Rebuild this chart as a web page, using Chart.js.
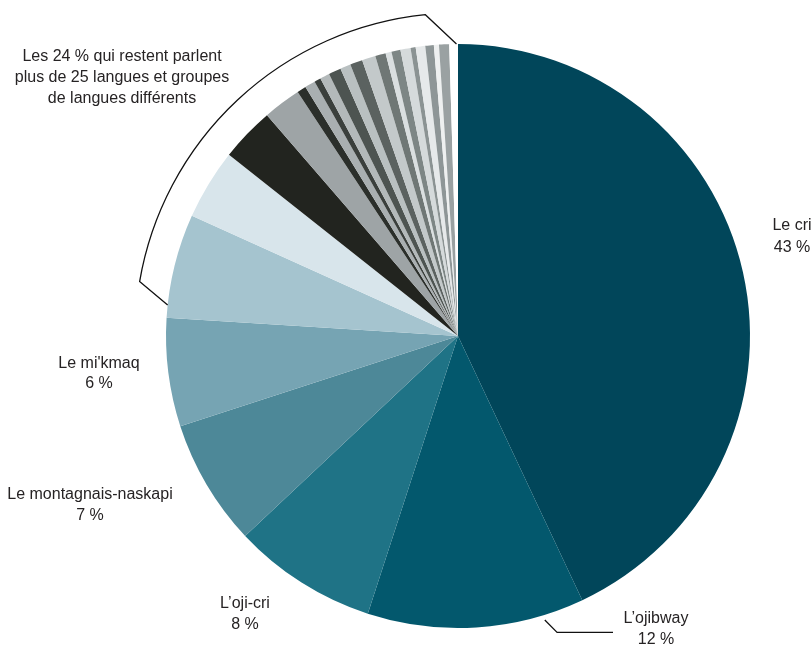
<!DOCTYPE html>
<html>
<head>
<meta charset="utf-8">
<script src="https://cdn.jsdelivr.net/npm/chart.js@4/dist/chart.umd.min.js"></script>
<style>
  html, body { margin: 0; padding: 0; background: #fff; overflow: hidden; }
  canvas { display: block; }
</style>
</head>
<body>
<canvas id="chart" width="812" height="646"></canvas>
<script>
// Langues autochtones : parts en pourcentage
const categories = [
  'Le cri', 'L’ojibway', 'L’oji-cri', 'Le montagnais-naskapi', "Le mi'kmaq",
  'Autre langue 1', 'Autre langue 2', 'Autre langue 3', 'Autre langue 4',
  'Autre langue 5', 'Autre langue 6', 'Autre langue 7', 'Autre langue 8',
  'Autre langue 9', 'Autre langue 10', 'Autre langue 11', 'Autre langue 12',
  'Autre langue 13', 'Autre langue 14', 'Autre langue 15', 'Autre langue 16',
  'Autre langue 17', 'Autre langue 18', 'Autre langue 19', 'Autre langue 20',
  'Autre langue 21', 'Autres'
];
const shares = [
  43, 12, 8, 7, 6,
  5.75, 3.9, 3.0, 2.1,
  0.5, 0.58, 0.36, 0.53, 0.69, 0.58, 0.69, 0.75, 0.58,
  0.33, 0.5, 0.56, 0.28, 0.53, 0.47, 0.28, 0.56,
  0.48
];
const sliceColors = [
  '#01465a', '#03586d', '#1f7386', '#4d8898', '#76a4b3',
  '#a5c4cf', '#d8e5eb', '#22241f', '#9ea4a6',
  '#2b2f2b', '#a9afb1', '#3a3f3c', '#b3b9ba', '#4d5451', '#b9c0c1',
  '#5b6260', '#c3c9ca', '#6f7775', '#dadfe0', '#7d8685', '#d5dadb',
  '#8b9393', '#e6e9ea', '#8e9697', '#eef0f0', '#9aa1a2',
  '#ffffff'
];

// Étiquettes : lignes de texte et leur point d'ancrage (centre)
const labelTexts = [
  { lines: ['Le cri', '43 %'], x: 792, y: 226, gap: 22 },
  { lines: ['L’ojibway', '12 %'], x: 656, y: 619, gap: 21 },
  { lines: ['L’oji-cri', '8 %'], x: 245, y: 604, gap: 21 },
  { lines: ['Le montagnais-naskapi', '7 %'], x: 90, y: 495, gap: 21 },
  { lines: ["Le mi'kmaq", '6 %'], x: 99, y: 364, gap: 20 },
  { lines: ['Les 24 % qui restent parlent', 'plus de 25 langues et groupes', 'de langues différents'], x: 122, y: 57, gap: 21 }
];

const TEXT_COLOR = '#262324';
const FONT = '16px "Liberation Sans", Arial, sans-serif';

const annotations = {
  id: 'annotations',
  afterDatasetsDraw(chart) {
    const ctx = chart.ctx;
    const arcs = chart.getDatasetMeta(0).data;
    const cx = arcs[0].x, cy = arcs[0].y, R = arcs[0].outerRadius;
    const deg = Math.PI / 180;
    const pt = (a, r) => [cx + r * Math.cos(a), cy + r * Math.sin(a)];

    ctx.save();
    ctx.strokeStyle = '#111';
    ctx.lineWidth = 1.3;
    ctx.lineJoin = 'miter';

    // Accolade autour des autres langues
    const a0 = arcs[5].startAngle + 2.5 * deg;
    const a1 = arcs[arcs.length - 1].endAngle - 0.3 * deg;
    const Ro = R + 31;
    const s = pt(a0, R);
    const e = pt(a1, R);
    const b0 = a0 + 3.6 * deg;
    const b1 = a1 - 5.5 * deg;
    const p1 = pt(b0, Ro);
    ctx.beginPath();
    ctx.moveTo(s[0], s[1]);
    ctx.lineTo(p1[0], p1[1]);
    ctx.arc(cx, cy, Ro, b0, b1, false);
    ctx.lineTo(e[0], e[1]);
    ctx.stroke();

    // Trait de rappel pour L'ojibway
    const oj = arcs[1];
    const aj = oj.startAngle + 0.19 * (oj.endAngle - oj.startAngle);
    const l0 = pt(aj, R + 5);
    ctx.beginPath();
    ctx.moveTo(l0[0], l0[1]);
    ctx.lineTo(l0[0] + 12.3, l0[1] + 12.3);
    ctx.lineTo(613, l0[1] + 12.3);
    ctx.stroke();
    ctx.restore();
  },
  afterDraw(chart) {
    const ctx = chart.ctx;
    ctx.save();
    ctx.font = FONT;
    ctx.fillStyle = TEXT_COLOR;
    ctx.textAlign = 'center';
    ctx.textBaseline = 'middle';
    labelTexts.forEach(l => {
      l.lines.forEach((t, i) => ctx.fillText(t, l.x, l.y + i * l.gap));
    });
    ctx.restore();
  }
};

new Chart(document.getElementById('chart'), {
  type: 'pie',
  data: {
    labels: categories,
    datasets: [{
      data: shares,
      backgroundColor: sliceColors,
      borderWidth: 0,
      hoverOffset: 0,
      offset: 0
    }]
  },
  options: {
    responsive: false,
    animation: false,
    events: [],
    layout: { padding: { left: 166, right: 62, top: 44, bottom: 18 } },
    plugins: {
      legend: { display: false },
      tooltip: { enabled: false }
    }
  },
  plugins: [annotations]
});
</script>
</body>
</html>
